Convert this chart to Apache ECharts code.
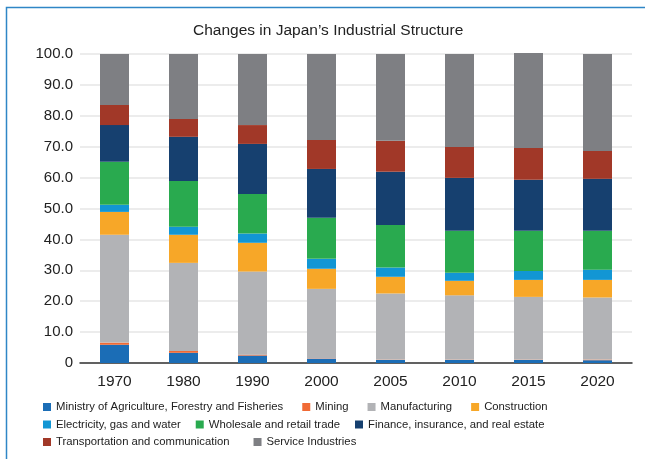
<!DOCTYPE html>
<html>
<head>
<meta charset="utf-8">
<script src="https://cdn.jsdelivr.net/npm/echarts@6/dist/echarts.min.js"></script>
<style>
  html, body { margin: 0; padding: 0; background: #ffffff; }
  #chart { width: 650px; height: 459px; }
</style>
</head>
<body>
<div id="chart"></div>
<script>
// Share of GDP by industry (%), stacked per year
var years = ['1970', '1980', '1990', '2000', '2005', '2010', '2015', '2020'];

var agriculture    = [5.9, 3.3, 2.4, 1.4, 1.0, 1.0, 1.0, 0.9];
var mining         = [0.7, 0.6, 0.3, 0.1, 0.1, 0.1, 0.1, 0.2];
var manufacturing  = [34.9, 28.5, 26.9, 22.5, 21.4, 20.8, 20.3, 20.1];
var construction   = [7.4, 9.1, 9.3, 6.5, 5.4, 4.7, 5.5, 5.7];
var utilities      = [2.3, 2.6, 3.0, 3.2, 3.0, 2.6, 2.9, 3.3];
var wholesale      = [13.9, 14.8, 12.8, 13.3, 13.8, 13.6, 13.0, 12.6];
var finance        = [11.9, 14.3, 16.2, 15.8, 17.2, 17.1, 16.5, 16.8];
var transport      = [6.5, 5.8, 6.1, 9.4, 10.0, 10.0, 10.3, 9.0];
var services       = [16.5, 21.0, 23.0, 27.8, 28.1, 30.1, 30.7, 31.4];

var seriesNames = [
  'Ministry of Agriculture, Forestry and Fisheries',
  'Mining',
  'Manufacturing',
  'Construction',
  'Electricity, gas and water',
  'Wholesale and retail trade',
  'Finance, insurance, and real estate',
  'Transportation and communication',
  'Service Industries'
];
var seriesData = [agriculture, mining, manufacturing, construction, utilities,
                  wholesale, finance, transport, services];
var seriesColors = ['#1b6db6', '#f06a35', '#b2b3b6', '#f7a728', '#1296d4',
                    '#29aa4f', '#16406f', '#a13828', '#7e7f83'];

var yTicks = { min: 0, max: 100, interval: 10 };

var FONT = '"Liberation Sans", Arial, Helvetica, sans-serif';

var chart = echarts.init(document.getElementById('chart'), null, { renderer: 'canvas' });

function legendRow(names, top, gap) {
  return {
    data: names,
    left: 43,
    top: top,
    orient: 'horizontal',
    icon: 'rect',
    itemWidth: 8,
    itemHeight: 8,
    itemGap: gap,
    padding: 0,
    selectedMode: false,
    textStyle: { fontFamily: FONT, fontSize: 11.3, color: '#222' }
  };
}

var option = {
  backgroundColor: '#ffffff',
  animation: false,
  title: {
    text: 'Changes in Japan\u2019s Industrial Structure',
    left: 193,
    top: 23,
    padding: 0,
    textStyle: { fontFamily: FONT, fontSize: 15.5, fontWeight: 'normal', color: '#222' }
  },
  graphic: [{
    type: 'polyline',
    shape: { points: [[6.5, 460], [6.5, 7.5], [645, 7.5]] },
    style: { stroke: '#2f86c6', lineWidth: 1.5, fill: null },
    silent: true
  }],
  legend: [
    legendRow(seriesNames.slice(0, 4), 401.5, 19),
    legendRow(seriesNames.slice(4, 7), 419, 15),
    legendRow(seriesNames.slice(7, 9), 436.5, 24)
  ],
  grid: { left: 80, right: 18, top: 54, bottom: 96, containLabel: false },
  xAxis: {
    type: 'category',
    data: years,
    axisLine: { show: true, lineStyle: { color: '#333', width: 1.5 } },
    axisTick: { show: false },
    axisLabel: { fontFamily: FONT, fontSize: 15.5, color: '#222', margin: 11 }
  },
  yAxis: {
    type: 'value',
    min: yTicks.min,
    max: yTicks.max,
    interval: yTicks.interval,
    axisLine: { show: false },
    axisTick: { show: false },
    splitLine: { lineStyle: { color: '#e6e6e6', width: 1.5 } },
    axisLabel: {
      fontFamily: FONT, fontSize: 15, color: '#222', margin: 7,
      formatter: function (v) { return v === 0 ? '0' : v.toFixed(1); }
    }
  },
  series: seriesNames.map(function (name, i) {
    return {
      name: name,
      type: 'bar',
      stack: 'share',
      barWidth: 29,
      clip: false,
      data: seriesData[i],
      itemStyle: { color: seriesColors[i] },
      emphasis: { disabled: true }
    };
  })
};

chart.setOption(option);
</script>
</body>
</html>
